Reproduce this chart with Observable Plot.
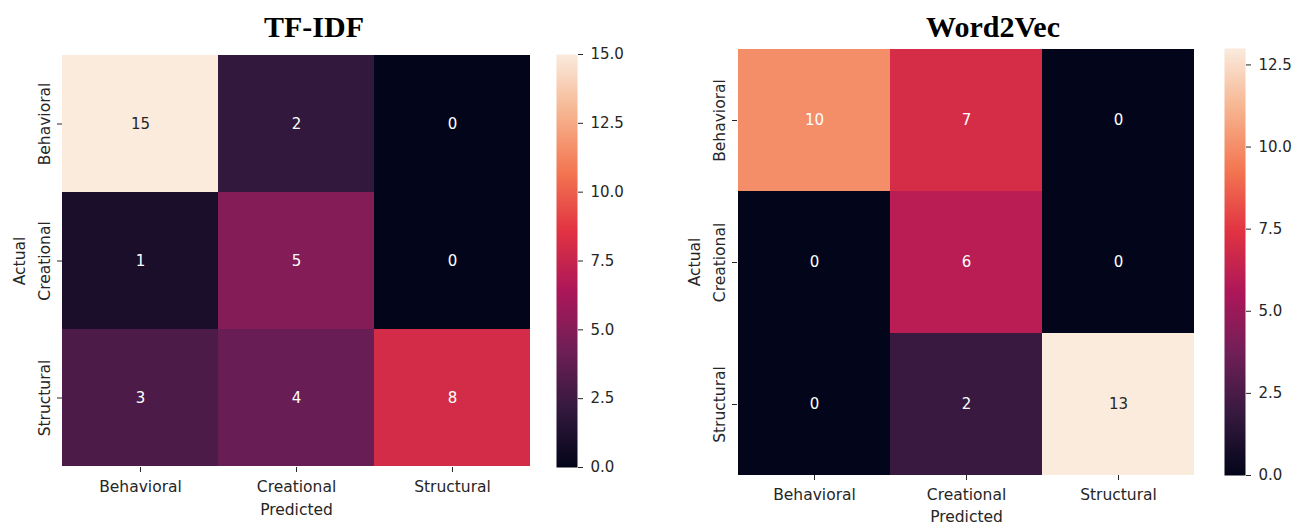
<!DOCTYPE html>
<html>
<head>
<meta charset="utf-8">
<script src="https://cdn.jsdelivr.net/npm/d3@7"></script>
<script src="https://cdn.jsdelivr.net/npm/@observablehq/plot@0.6"></script>
<style>
  html, body { margin: 0; padding: 0; background: #fff; }
  #root { position: relative; width: 1306px; height: 528px; overflow: hidden; background: #fff; }
  .part { position: absolute; top: 0; }
  .title { position: absolute; font-family: "Liberation Serif", "Times New Roman", serif; font-weight: bold; font-size: 30px; color: #000; transform: translateX(-50%); white-space: nowrap; line-height: 1; }
</style>
</head>
<body>
<div id="root"></div>
<script>
const classes = ["Behavioral", "Creational", "Structural"];
const tfidfValues = [[15, 2, 0], [1, 5, 0], [3, 4, 8]];
const w2vValues = [[10, 7, 0], [0, 6, 0], [0, 2, 13]];
const tfidfTicks = [0, 2.5, 5, 7.5, 10, 12.5, 15];
const w2vTicks = [0, 2.5, 5, 7.5, 10, 12.5];
const titles = ["TF-IDF", "Word2Vec"];
const rocketStops = ["#03051a", "#35193e", "#701f57", "#ad1759", "#e13342", "#f37651", "#f6b48f", "#faebdd"];

const rocket = d3.piecewise(d3.interpolateRgb, rocketStops);
const ink = "#262626";
const font = {fontFamily: "'DejaVu Sans', sans-serif", fontSize: "15.5px", color: ink, background: "transparent"};

function luminance(c) {
  const lin = v => { v /= 255; return v <= 0.03928 ? v / 12.92 : Math.pow((v + 0.055) / 1.055, 2.4); };
  const r = d3.rgb(c);
  return 0.2126 * lin(r.r) + 0.7152 * lin(r.g) + 0.0722 * lin(r.b);
}

function heatmap(values, max, o) {
  const data = values.flatMap((row, i) => row.map((v, j) => ({actual: classes[i], predicted: classes[j], value: v})));
  const light = d => luminance(rocket(d.value / max)) > 0.408;
  return Plot.plot({
    width: o.width, height: o.height,
    marginLeft: o.ml, marginRight: o.mr, marginTop: o.mt, marginBottom: o.mb,
    style: font,
    x: {domain: classes, padding: 0},
    y: {domain: classes, padding: 0},
    color: {type: "linear", domain: [0, max], interpolate: rocket},
    marks: [
      Plot.cell(data, {x: "predicted", y: "actual", fill: "value", inset: 0}),
      Plot.text(data.filter(light), {x: "predicted", y: "actual", text: d => String(d.value), fill: ink, fontSize: 15}),
      Plot.text(data.filter(d => !light(d)), {x: "predicted", y: "actual", text: d => String(d.value), fill: "white", fontSize: 15}),
      Plot.axisX({tickSize: 5, tickPadding: 8, label: "Predicted", labelAnchor: "center", labelOffset: o.xlo, fontSize: 15.5}),
      Plot.axisY({tickSize: 5, tickPadding: 8, tickRotate: -90, label: "Actual", labelAnchor: "center", labelOffset: 49, fontSize: 15.5})
    ]
  });
}

function colorbar(max, ticks, o) {
  return Plot.plot({
    width: o.width, height: o.height,
    marginLeft: 0, marginRight: o.width - o.barWidth, marginTop: o.mt, marginBottom: o.mb,
    style: font,
    x: {domain: [0, 1], axis: null},
    y: {domain: [0, max]},
    color: {type: "linear", domain: [0, max], interpolate: rocket},
    marks: [
      Plot.raster({fill: (x, y) => y, x1: 0, x2: 1, y1: 0, y2: max, width: 1, height: 300}),
      Plot.axisY({anchor: "right", ticks: ticks, tickFormat: d3.format(".1f"), tickSize: 5, tickPadding: 8, label: null, fontSize: 15})
    ]
  });
}

const root = document.getElementById("root");
function place(node, left) {
  node.classList.add("part");
  node.style.left = left + "px";
  root.appendChild(node);
}
function addTitle(text, cx, top) {
  const d = document.createElement("div");
  d.className = "title";
  d.textContent = text;
  d.style.left = cx + "px";
  d.style.top = top + "px";
  root.appendChild(d);
}

// Left chart: TF-IDF
place(heatmap(tfidfValues, 15, {width: 540, height: 528, ml: 62, mr: 10, mt: 54, mb: 61, xlo: 47}), 0);
place(colorbar(15, tfidfTicks, {width: 80, barWidth: 21, height: 528, mt: 54, mb: 61}), 556);
addTitle(titles[0], 314, 12);

// Right chart: Word2Vec
place(heatmap(w2vValues, 13, {width: 545, height: 528, ml: 77, mr: 10, mt: 48, mb: 53, xlo: 46}), 660);
place(colorbar(13, w2vTicks, {width: 82, barWidth: 21, height: 528, mt: 48, mb: 53}), 1224);
addTitle(titles[1], 993, 12);
</script>
</body>
</html>
